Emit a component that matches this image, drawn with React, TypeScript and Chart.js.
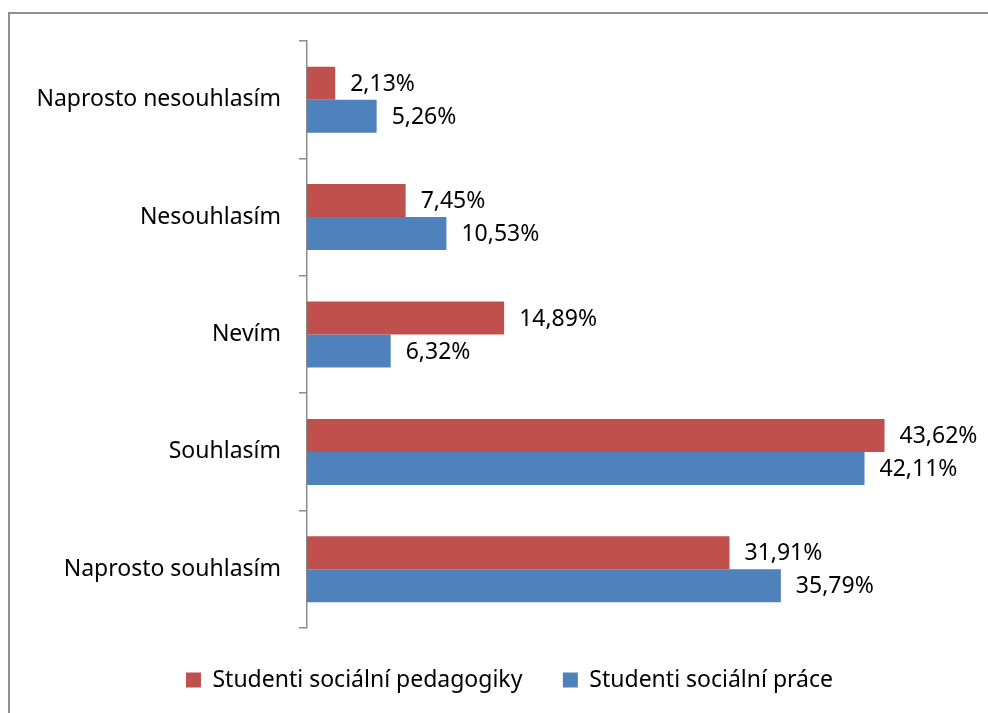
import React, { useEffect, useRef } from "react";
import { Chart, registerables } from "chart.js";

Chart.register(...registerables);

const categories = [
  "Naprosto nesouhlasím",
  "Nesouhlasím",
  "Nevím",
  "Souhlasím",
  "Naprosto souhlasím",
];
const seriesNames = ["Studenti sociální pedagogiky", "Studenti sociální práce"];
const pedagogiky = [2.13, 7.45, 14.89, 43.62, 31.91];
const prace = [5.26, 10.53, 6.32, 42.11, 35.79];
const colors = ["#C0504D", "#4F81BD"];

const FONT = "'Noto Sans', 'Open Sans', sans-serif";
const FS = 23;

const fmt = (v: number) => v.toFixed(2).replace(".", ",") + "%";

const labelPlugin = {
  id: "barLabels",
  afterLayout(chart: any) {
    const y = chart.scales.y;
    if (y) y.left = 0;
  },
  afterDatasetsDraw(chart: any) {
    const ctx = chart.ctx;
    ctx.save();
    ctx.font = `${FS}px ${FONT}`;
    ctx.fillStyle = "#000";
    ctx.textAlign = "left";
    ctx.textBaseline = "middle";
    chart.data.datasets.forEach((ds: any, di: number) => {
      const meta = chart.getDatasetMeta(di);
      meta.data.forEach((bar: any, i: number) => {
        ctx.fillText(fmt(ds.data[i]), bar.x + 15, bar.y + 1);
      });
    });
    ctx.restore();
  },
};

export default function App() {
  const ref = useRef<HTMLCanvasElement | null>(null);
  useEffect(() => {
    if (!ref.current) return;
    const chart = new Chart(ref.current, {
      type: "bar",
      data: {
        labels: categories,
        datasets: [
          {
            label: seriesNames[0],
            data: pedagogiky,
            backgroundColor: colors[0],
            categoryPercentage: 0.562,
            barPercentage: 1,
          },
          {
            label: seriesNames[1],
            data: prace,
            backgroundColor: colors[1],
            categoryPercentage: 0.562,
            barPercentage: 1,
          },
        ],
      },
      options: {
        indexAxis: "y",
        responsive: false,
        animation: false,
        layout: { padding: { left: 50, right: 19, top: 41, bottom: 11.5 } },
        scales: {
          x: {
            display: false,
            min: 0,
            max: 50,
          },
          y: {
            grid: {
              drawOnChartArea: false,
              drawTicks: true,
              tickLength: 8,
              color: "#8c8c8c",
              lineWidth: 1.5,
            },
            border: { display: true, color: "#8c8c8c", width: 1.5 },
            ticks: {
              padding: 18,
              color: "#000",
              font: { family: FONT, size: FS },
            },
            afterFit: (scale: any) => {
              scale.width = 257;
            },
          },
        },
        plugins: {
          tooltip: { enabled: false },
          legend: {
            position: "bottom",
            labels: {
              boxWidth: 15,
              boxHeight: 15,
              padding: 40.5,
              color: "#000",
              font: { family: FONT, size: FS },
            },
          },
        },
      },
      plugins: [labelPlugin],
    });
    return () => chart.destroy();
  }, []);

  return (
    <div
      style={{
        position: "fixed",
        left: 0,
        top: 0,
        width: 988,
        height: 713,
        overflow: "hidden",
        background: "#fff",
      }}
    >
      <div
        style={{
          position: "absolute",
          left: 8,
          top: 12,
          width: 1200,
          height: 1200,
          border: "2px solid #909090",
        }}
      />
      <canvas
        ref={ref}
        width={988}
        height={713}
        style={{ position: "absolute", left: 0, top: 0 }}
      />
    </div>
  );
}
